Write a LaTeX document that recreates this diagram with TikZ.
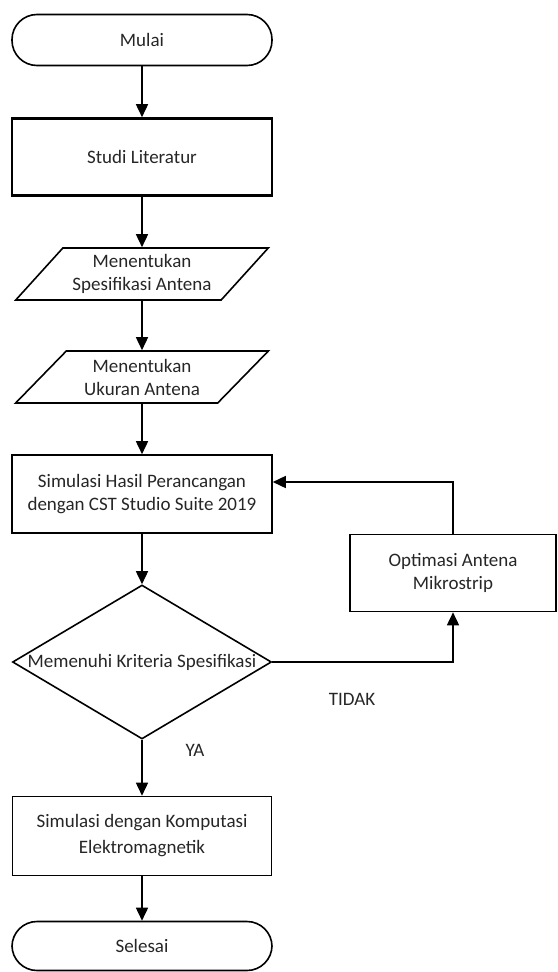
\documentclass[tikz,border=0pt]{standalone}
\usepackage{fontspec}
\setmainfont{Carlito}
\usetikzlibrary{shapes.geometric,arrows.meta}
\tikzset{
    terminal/.style = {
        rectangle,
        draw,
        rounded corners=25pt,
        line width=1.6pt,
        minimum width=260pt,
        minimum height=51pt,
    },
    process/.style = {
        rectangle,
        draw,
        line width=1.6pt,
        align=center,
    },
    io/.style = {
        trapezium,
        draw,
        trapezium left angle=48,
        trapezium right angle=132,
        trapezium stretches=true,
        line width=1.6pt,
        minimum width=253pt,
        minimum height=52pt,
        align=center,
        inner xsep=0pt,
    },
    decision/.style = {
        diamond,
        draw,
        line width=1.6pt,
        minimum width=259pt,
        minimum height=154pt,
        inner sep=0pt,
    },
    label/.style = {text=black!85},
    arrow/.style = {-{Triangle[width=12pt,length=13pt]}, line width=1.6pt}
}

\begin{document}
\begin{tikzpicture}[x=1pt, y=-1pt, font=\fontsize{19}{23}\selectfont, text=black!85]
  \useasboundingbox (0,0) rectangle (557,972);

  % Main column
  \node[terminal] (mulai) at (142,40) {Mulai};
  \node[process, line width=2.6pt, minimum width=260pt, minimum height=77pt] (studi) at (142,157) {Studi Literatur};
  \node[io] (spek) at (142,274) {Menentukan\\Spesifikasi Antena};
  \node[io] (ukuran) at (142,377) {Menentukan\\Ukuran Antena};
  \node[process, minimum width=260pt, minimum height=78pt] (simhasil) at (142,494) {Simulasi Hasil Perancangan\\dengan CST Studio Suite 2019};
  \node[decision] (cek) at (142,662) {};
  \node (cektext) at (142,662) {Memenuhi Kriteria Spesifikasi};
  \node[process, minimum width=259pt, minimum height=79pt] (komp) at (142,836) {Simulasi dengan Komputasi\\[3pt]Elektromagnetik};
  \node[terminal, minimum height=49pt] (selesai) at (142,946) {Selesai};

  % Side branch
  \node[process, minimum width=206pt, minimum height=77pt] (optim) at (453,573) {Optimasi Antena\\Mikrostrip};

  % Labels
  \node[label] (tidak) at (352,699) {TIDAK};
  \node[label] (ya) at (195,750) {YA};

  % Connectors
  \draw[arrow] (mulai) -- (studi);
  \draw[arrow] (studi) -- (spek);
  \draw[arrow] (spek) -- (ukuran);
  \draw[arrow] (ukuran) -- (simhasil);
  \draw[arrow] (simhasil) -- (cek);
  \draw[arrow] (cek) -- (komp);
  \draw[arrow] (komp) -- (selesai);

  % Loop back
  \draw[arrow] (cek.east) -| (optim.south);
  \draw[arrow] (optim.north) |- ([yshift=12pt]simhasil.east);

\end{tikzpicture}
\end{document}
